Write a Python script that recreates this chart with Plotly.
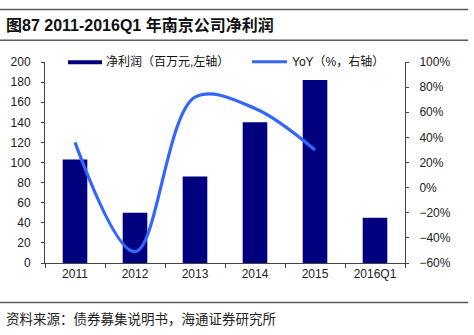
import plotly.graph_objects as go

# Net profit of the Nanjing company, 2011-2016Q1
years = ["2011", "2012", "2013", "2014", "2015", "2016Q1"]
net_profit = [103, 50, 86, 140, 182, 45]          # million yuan, left axis
yoy_years = ["2011", "2012", "2013", "2014", "2015"]
yoy = [36, -51, 72, 63, 30]                      # %, right axis

title_text = "图87 2011-2016Q1 年南京公司净利润"
source_text = "资料来源：债券募集说明书，海通证券研究所"
bar_name = "净利润（百万元,左轴）"
line_name = "YoY（%，右轴）"

W, H = 474, 335
L, R, T, B = 45, 405, 61.7, 263.3
PW, PH = R - L, B - T

def px(x):
    return (x - L) / PW

def py(y):
    return (B - y) / PH

CJK = "Liberation Sans, Arial, Noto Sans CJK SC"
NAVY = "#00007F"
BLUE = "#3366FF"
AXIS = "#444444"

fig = go.Figure()
fig.add_trace(go.Bar(x=years, y=net_profit, name=bar_name,
                     marker=dict(color=NAVY, line=dict(width=0)),
                     showlegend=False))
fig.add_trace(go.Scatter(x=yoy_years, y=yoy, name=line_name, yaxis="y2",
                         mode="lines", line=dict(color=BLUE, width=3.2,
                                                 shape="spline", smoothing=1.0),
                         showlegend=False))

shapes = []
# horizontal rules above/below the title and above the source note
for yy in (9, 40, 303):
    shapes.append(dict(type="line", xref="paper", yref="paper",
                       x0=px(0), x1=px(468), y0=py(yy), y1=py(yy),
                       line=dict(color="#5a5a5a", width=1.5)))
# legend keys
shapes.append(dict(type="rect", xref="paper", yref="paper",
                   x0=px(68), x1=px(102), y0=py(64), y1=py(60),
                   fillcolor=NAVY, line=dict(width=0)))
shapes.append(dict(type="line", xref="paper", yref="paper",
                   x0=px(252), x1=px(287), y0=py(61.5), y1=py(61.5),
                   line=dict(color=BLUE, width=3)))

annotations = [
    dict(text=f"<b>{title_text}</b>", xref="paper", yref="paper",
         x=px(4), y=py(25), xanchor="left", yanchor="middle", showarrow=False,
         font=dict(family=CJK, size=16, color="#111111")),
    dict(text=source_text, xref="paper", yref="paper",
         x=px(4), y=py(318), xanchor="left", yanchor="middle", showarrow=False,
         font=dict(family="Noto Sans CJK SC", size=13.5, color="#222222")),
    dict(text=bar_name, xref="paper", yref="paper",
         x=px(104), y=py(61), xanchor="left", yanchor="middle", showarrow=False,
         font=dict(family=CJK, size=12, color="#111111")),
    dict(text=line_name, xref="paper", yref="paper",
         x=px(290), y=py(61), xanchor="left", yanchor="middle", showarrow=False,
         font=dict(family=CJK, size=12, color="#111111")),
]

fig.update_layout(
    width=W, height=H,
    margin=dict(l=L, r=W - R, t=T, b=H - B, pad=0),
    paper_bgcolor="white", plot_bgcolor="white",
    bargap=0.59,
    font=dict(family=CJK, size=12, color="#222222"),
    xaxis=dict(type="category", showline=True, linecolor=AXIS, linewidth=1,
               ticks="outside", ticklen=4, tickcolor=AXIS, tickson="boundaries",
               showgrid=False, tickfont=dict(size=12, color="#222222"),
               range=[-0.5, 5.5]),
    yaxis=dict(range=[0, 200], dtick=20, showline=True, linecolor=AXIS,
               linewidth=1, ticks="outside", ticklen=3, tickcolor=AXIS,
               showgrid=False, zeroline=False, ticklabelstandoff=8,
               tickfont=dict(size=12, color="#222222")),
    yaxis2=dict(range=[-60, 100], dtick=20, ticksuffix="%", overlaying="y",
                side="right", showline=True, linecolor=AXIS, linewidth=1,
                ticks="outside", ticklen=3, tickcolor=AXIS, showgrid=False,
                zeroline=False, ticklabelstandoff=8,
                tickfont=dict(size=12, color="#222222")),
    shapes=shapes,
    annotations=annotations,
)

fig.write_html("out.html")
